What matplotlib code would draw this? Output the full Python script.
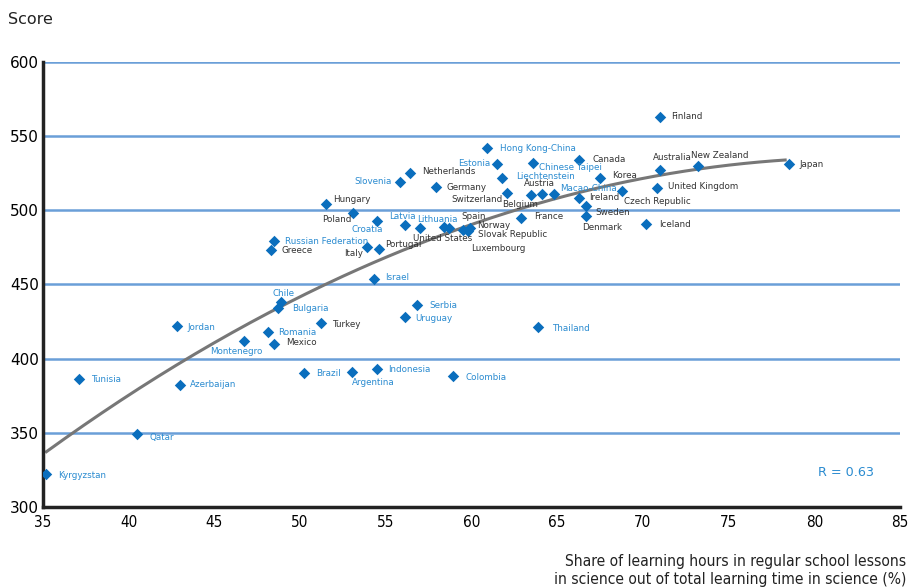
import numpy as np
import matplotlib
matplotlib.use("Agg")
import matplotlib.pyplot as plt

# share of learning hours in school (%), science score
countries = ["Kyrgyzstan", "Qatar", "Tunisia", "Azerbaijan", "Jordan", "Montenegro",
             "Romania", "Mexico", "Bulgaria", "Chile", "Turkey", "Brazil", "Argentina",
             "Indonesia", "Colombia", "Israel", "Serbia", "Uruguay", "Thailand",
             "Russian Federation", "Greece", "Italy", "Portugal", "Hungary", "Poland",
             "Croatia", "Latvia", "Lithuania", "United States", "Spain", "Norway",
             "Slovak Republic", "Luxembourg", "France", "Switzerland", "Belgium",
             "Austria", "Macao-China", "Germany", "Netherlands", "Slovenia", "Estonia",
             "Hong Kong-China", "Liechtenstein", "Chinese Taipei", "Canada", "Korea",
             "Ireland", "Sweden", "Denmark", "Czech Republic", "United Kingdom",
             "Australia", "New Zealand", "Japan", "Finland", "Iceland"]
share = [35.2, 40.5, 37.1, 43.0, 42.8, 46.7,
         48.1, 48.5, 48.7, 48.9, 51.2, 50.2, 53.0,
         54.5, 58.9, 54.3, 56.8, 56.1, 63.9,
         48.5, 48.3, 53.9, 54.6, 51.5, 53.1,
         54.5, 56.1, 57.0, 58.4, 58.7, 59.5,
         59.9, 59.8, 62.9, 62.1, 63.5,
         64.1, 64.8, 57.9, 56.4, 55.8, 61.5,
         60.9, 61.8, 63.6, 66.3, 67.5,
         66.3, 66.7, 66.7, 68.8, 70.8,
         71.0, 73.2, 78.5, 71.0, 70.2]
score = [322, 349, 386, 382, 422, 412,
         418, 410, 434, 438, 424, 390, 391,
         393, 388, 454, 436, 428, 421,
         479, 473, 475, 474, 504, 498,
         493, 490, 488, 489, 488, 487,
         488, 486, 495, 512, 510,
         511, 511, 516, 525, 519, 531,
         542, 522, 532, 534, 522,
         508, 503, 496, 513, 515,
         527, 530, 531, 563, 491]
partners = {"Kyrgyzstan", "Qatar", "Tunisia", "Azerbaijan", "Jordan", "Montenegro",
            "Romania", "Bulgaria", "Chile", "Brazil", "Argentina", "Indonesia",
            "Colombia", "Israel", "Serbia", "Uruguay", "Thailand", "Russian Federation",
            "Croatia", "Latvia", "Lithuania", "Macao-China", "Slovenia", "Estonia",
            "Hong Kong-China", "Liechtenstein", "Chinese Taipei"}
r_value = 0.63

# label offsets in pixels (dx, dy up) and alignment
offsets = {
    "Kyrgyzstan": (12, -1, "left"), "Qatar": (12, -3, "left"), "Tunisia": (12, 0, "left"),
    "Azerbaijan": (10, 1, "left"), "Jordan": (11, -1, "left"),
    "Montenegro": (-7, -11, "center"), "Romania": (11, -1, "left"),
    "Mexico": (12, 1, "left"), "Bulgaria": (14, 0, "left"), "Chile": (2, 9, "center"),
    "Turkey": (11, -1, "left"), "Brazil": (13, 0, "left"), "Argentina": (0, -11, "left"),
    "Indonesia": (11, 0, "left"), "Colombia": (13, -1, "left"), "Israel": (11, 1, "left"),
    "Serbia": (13, 0, "left"), "Uruguay": (11, -1, "left"), "Thailand": (14, -1, "left"),
    "Russian Federation": (11, 0, "left"), "Greece": (11, 0, "left"),
    "Italy": (-4, -6, "right"), "Portugal": (6, 4, "left"), "Hungary": (7, 5, "left"),
    "Poland": (-2, -6, "right"), "Croatia": (-10, -9, "center"),
    "Latvia": (-2, 9, "center"), "Lithuania": (-3, 9, "left"),
    "United States": (-1, -12, "center"), "Spain": (12, 12, "left"),
    "Norway": (14, 4, "left"), "Slovak Republic": (8, -6, "left"),
    "Luxembourg": (3, -17, "left"), "France": (13, 1, "left"),
    "Switzerland": (-5, -7, "right"), "Belgium": (-11, -9, "center"),
    "Austria": (-2, 10, "center"), "Macao-China": (6, 5, "left"),
    "Germany": (11, -1, "left"), "Netherlands": (12, 2, "left"),
    "Slovenia": (-8, 1, "right"), "Estonia": (-7, 1, "right"),
    "Hong Kong-China": (13, 0, "left"), "Liechtenstein": (14, 1, "left"),
    "Chinese Taipei": (6, -5, "left"), "Canada": (13, 0, "left"),
    "Korea": (12, 2, "left"), "Ireland": (10, 1, "left"), "Sweden": (9, -7, "left"),
    "Denmark": (16, -11, "center"), "Czech Republic": (2, -10, "left"),
    "United Kingdom": (11, 2, "left"), "Australia": (12, 13, "center"),
    "New Zealand": (22, 10, "center"), "Japan": (11, 0, "left"),
    "Finland": (11, 0, "left"), "Iceland": (13, -1, "left"),
}

marker_blue = "#0a6ebd"
label_blue = "#2a8bd0"
grid_blue = "#6a9fd8"

fig = plt.figure(figsize=(9.09, 5.88), dpi=100)
ax = fig.add_axes([0.0473, 0.1378, 0.9428, 0.7568])

for yv in [350, 400, 450, 500, 550, 600]:
    ax.axhline(yv, color=grid_blue, lw=1.8, zorder=1)

# quadratic trend
x = np.array(share)
y = np.array(score)
coef = np.polyfit(x, y, 2)
xs = np.linspace(35.2, 78.3, 200)
ax.plot(xs, np.polyval(coef, xs), color="#777777", lw=2.2, zorder=2)

ax.scatter(x, y, marker="D", s=34, color=marker_blue, zorder=3, linewidths=0)

for c, xv, yv in zip(countries, share, score):
    dx, dy, ha = offsets[c]
    ax.annotate(c, (xv, yv), xytext=(dx * 0.72, dy * 0.72), textcoords="offset points",
                ha=ha, va="center", fontsize=6.3,
                color=label_blue if c in partners else "#333333", zorder=4)

ax.text(80.2, 323, "R = %.2f" % r_value, color=label_blue, fontsize=9.2,
        ha="left", va="center")

ax.set_xlim(35, 85)
ax.set_ylim(300, 600)
ax.set_xticks(range(35, 90, 5))
ax.set_yticks(range(300, 650, 50))
ax.tick_params(length=0, labelsize=11, pad=6)
for lab in ax.get_xticklabels():
    lab.set_fontstretch("condensed")
ax.tick_params(axis="y", pad=3)
for s in ["top", "right"]:
    ax.spines[s].set_visible(False)
for s in ["left", "bottom"]:
    ax.spines[s].set_linewidth(2.5)
    ax.spines[s].set_color("#222222")

fig.text(0.009, 0.966, "Score", fontsize=11.5, ha="left", va="center", color="#222222")
fig.text(0.997, 0.002,
         "Share of learning hours in regular school lessons\nin science out of total learning time in science (%)",
         fontsize=11.2, ha="right", va="bottom", color="#222222",
         fontstretch="condensed", linespacing=1.2)

fig.savefig("out.png", dpi=100)
